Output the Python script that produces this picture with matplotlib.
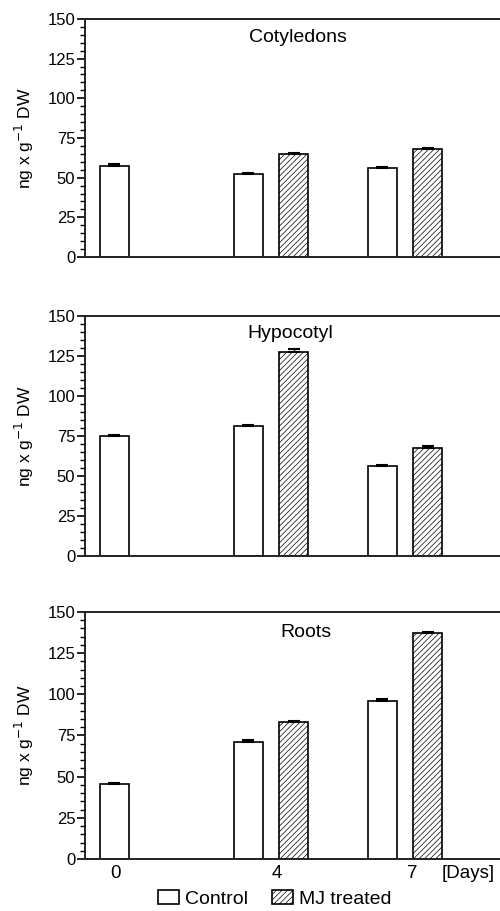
import numpy as np
import matplotlib
matplotlib.use("Agg")
import matplotlib.pyplot as plt

plt.rcParams['font.family'] = ['Liberation Sans', 'DejaVu Sans']
plt.rcParams['font.size'] = 12
plt.rcParams['hatch.color'] = '#707070'
plt.rcParams['hatch.linewidth'] = 0.5

# data
dage = ["0", "4", "7"]
organer = ["Cotyledons", "Hypocotyl", "Roots"]

kontrol = {"Cotyledons": [57.5, 52, 56],
           "Hypocotyl": [75, 81, 56],
           "Roots": [45.5, 71, 96]}
kontrol_err = {"Cotyledons": [0.8, 1.0, 1.0],
               "Hypocotyl": [0.8, 1.0, 0.8],
               "Roots": [0.8, 1.0, 1.0]}
# MJ treated only on day 4 and 7
mj = {"Cotyledons": [65, 68],
      "Hypocotyl": [127.5, 67.5],
      "Roots": [83, 137]}
mj_err = {"Cotyledons": [0.8, 0.8],
          "Hypocotyl": [2.0, 1.0],
          "Roots": [0.8, 1.0]}

pos = np.arange(len(dage))
bredde = 0.216
forskyd = 0.336

fig = plt.figure(figsize=(5, 9.11), dpi=100)
ax_pos = [[0.17, 0.7179, 0.83, 0.2613],
          [0.17, 0.3897, 0.83, 0.2634],
          [0.17, 0.0571, 0.83, 0.2711]]
titel_pos = [(0.512, 0.92), (0.494, 0.929), (0.533, 0.919)]

axs = []
for i, organ in enumerate(organer):
    ax = fig.add_axes(ax_pos[i])
    axs.append(ax)
    ax.bar(pos, kontrol[organ], bredde, color='white', edgecolor='black',
           linewidth=1.2, label='Control', zorder=2)
    ax.bar(pos[1:] + forskyd, mj[organ], bredde, color='white', edgecolor='black',
           hatch='//////', linewidth=1.2, label='MJ treated', zorder=2)
    ax.errorbar(pos, kontrol[organ], yerr=[np.zeros(3), kontrol_err[organ]],
                fmt='none', ecolor='black', elinewidth=1, capsize=4.5, capthick=1.5, zorder=3)
    ax.errorbar(pos[1:] + forskyd, mj[organ], yerr=[np.zeros(2), mj_err[organ]],
                fmt='none', ecolor='black', elinewidth=1, capsize=4.5, capthick=1.5, zorder=3)

    ax.set_xlim(-0.22, 2.877)
    ax.set_ylim(0, 150)
    ax.set_yticks([0, 25, 50, 75, 100, 125, 150])
    ax.set_yticks(np.arange(0, 151, 5), minor=True)
    ax.tick_params(axis='y', which='major', length=6, width=1.2, pad=1, direction='out')
    ax.tick_params(axis='y', which='minor', length=3.5, width=1)
    ax.spines['right'].set_visible(False)
    for s in ['left', 'top', 'bottom']:
        ax.spines[s].set_linewidth(1.4)
        ax.spines[s].set_color('#222222')
    ax.set_ylabel('ng x g$^{-1}$ DW', fontsize=12.5, labelpad=8)
    ax.text(titel_pos[i][0], titel_pos[i][1], organ, transform=ax.transAxes,
            ha='center', va='center', fontsize=14)
    if i < 2:
        ax.set_xticks([])
    else:
        ax.set_xticks([0.004, 1.21, 2.22])
        ax.set_xticklabels(dage, fontsize=13.5)
        ax.tick_params(axis='x', length=0, pad=4)
        ax.text(0.923, -0.057, '[Days]', transform=ax.transAxes, ha='center',
                va='center', fontsize=13.5)

handles, labels = axs[2].get_legend_handles_labels()
fig.legend(handles, labels, loc='center', bbox_to_anchor=(0.549, 0.0135), ncol=2,
           frameon=False, fontsize=14, handlelength=1.08, handleheight=0.72,
           handletextpad=0.31, columnspacing=1.24, borderpad=0)

fig.savefig('out.png', dpi=100)
